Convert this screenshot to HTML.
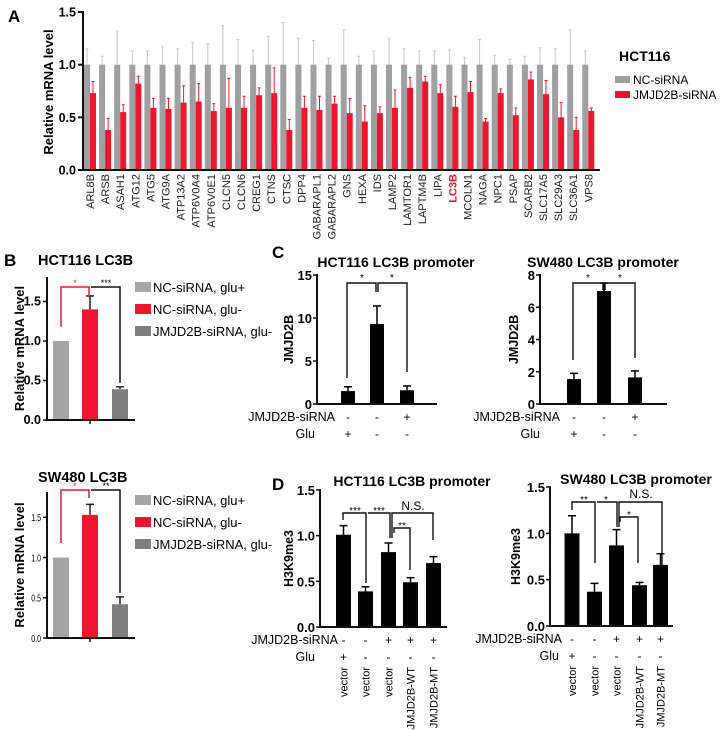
<!DOCTYPE html>
<html><head><meta charset="utf-8">
<style>
html,body{margin:0;padding:0;background:#fff;}
svg{display:block;font-family:"Liberation Sans",Arial,sans-serif;}
</style></head>
<body>
<svg id="fig" width="722" height="730" viewBox="0 0 722 730" xmlns="http://www.w3.org/2000/svg"></svg>
<script>
// ---------- DATA ----------
const aGenes=["ARL8B","ARSB","ASAH1","ATG12","ATG5","ATG9A","ATP13A2","ATP6V0A4","ATP6V0E1","CLCN5","CLCN6","CREG1","CTNS","CTSC","DPP4","GABARAPL1","GABARAPL2","GNS","HEXA","IDS","LAMP2","LAMTOR1","LAPTM4B","LIPA","LC3B","MCOLN1","NAGA","NPC1","PSAP","SCARB2","SLC17A5","SLC29A3","SLC36A1","VPS8"];
const aNC=[1,1,1,1,1,1,1,1,1,1,1,1,1,1,1,1,1,1,1,1,1,1,1,1,1,1,1,1,1,1,1,1,1,1];
const aNCTop=[1.15,1.08,1.32,1.13,1.13,1.17,1.15,1.21,1.20,1.37,1.24,1.14,1.27,1.40,1.25,1.23,1.06,1.33,1.08,1.13,1.25,1.15,1.13,1.13,1.14,1.07,1.24,1.09,1.05,1.08,1.16,1.15,1.33,1.13];
const aKD=[0.73,0.38,0.55,0.82,0.59,0.58,0.64,0.65,0.56,0.59,0.59,0.71,0.73,0.38,0.59,0.57,0.63,0.54,0.46,0.54,0.59,0.78,0.84,0.73,0.60,0.74,0.46,0.73,0.52,0.86,0.72,0.50,0.38,0.56];
const aKDTop=[0.84,0.49,0.62,0.89,0.68,0.68,0.80,0.82,0.63,0.87,0.70,0.78,0.97,0.48,0.70,0.70,0.70,0.68,0.61,0.60,0.76,0.88,0.89,0.81,0.70,0.84,0.49,0.77,0.59,0.93,0.85,0.64,0.50,0.59];
const aTicks=[0,0.5,1.0,1.5];
const aTickLabels=["0.0","0.5","1.0","1.5"];

const bHctVals=[1.0,1.40,0.39];
const bHctErr=[0,0.17,0.03];
const bSwVals=[1.0,1.53,0.42];
const bSwErr=[0,0.13,0.09];
const bLegend=["NC-siRNA, glu+","NC-siRNA, glu-","JMJD2B-siRNA, glu-"];
const bTicks=[0,0.5,1.0,1.5];

const cHctVals=[1.5,9.3,1.6];
const cHctErr=[0.5,2.1,0.5];
const cHctTicks=[0,5,10,15];
const cSwVals=[1.55,7.0,1.65];
const cSwErr=[0.35,0.5,0.4];
const cSwTicks=[0,2,4,6,8];
const cSiRNA=["-","-","+"];
const cGlu=["+","-","-"];

const dHctVals=[1.01,0.39,0.82,0.49,0.70];
const dHctErr=[0.10,0.05,0.10,0.05,0.07];
const dSwVals=[1.0,0.37,0.87,0.44,0.66];
const dSwErr=[0.19,0.09,0.17,0.03,0.12];
const dTicks=[0,0.5,1.0,1.5];
const dSiRNA=["-","-","+","+","+"];
const dGlu=["+","-","-","-","-"];
const dVectors=["vector","vector","vector","JMJD2B-WT","JMJD2B-MT"];

// ---------- HELPERS ----------
const NS="http://www.w3.org/2000/svg";
const svg=document.getElementById("fig");
const RED="#ee1530";
function mk(tag,attrs,parent){const e=document.createElementNS(NS,tag);for(const k in attrs)e.setAttribute(k,attrs[k]);(parent||svg).appendChild(e);return e;}
function txt(s,attrs,parent){const t=mk("text",attrs,parent);t.textContent=s;return t;}
function line(x1,y1,x2,y2,stroke,w){return mk("line",{x1:x1,y1:y1,x2:x2,y2:y2,stroke:stroke,"stroke-width":w||1});}
function poly(pts,stroke,w){return mk("polyline",{points:pts.map(p=>p.join(",")).join(" "),fill:"none",stroke:stroke,"stroke-width":w||1.3});}

// ---------- PANEL A ----------
(function(){
  const Y0=170, YT=12;
  const y=v=>Y0-v*(Y0-YT)/1.5;
  const gx=i=>84+i*15.1;
  const L=txt("A",{x:8,y:22,"font-size":17,"font-weight":"bold"});
  
  
  aGenes.forEach((gname,i)=>{
    const x=gx(i);
    const e1=line(x+3,y(aNCTop[i]),x+3,y(aNC[i]),"#c8c8c8",1);
    
    
    line(x+1.5,y(aNCTop[i]),x+4.5,y(aNCTop[i]),"#c8c8c8",1);
    const b1=mk("rect",{x:x,y:y(aNC[i]),width:6,height:y(0)-y(aNC[i]),fill:"#a0a0a2"});
    
    
    const e2=line(x+9,y(aKDTop[i]),x+9,y(aKD[i]),RED,1);
    
    
    line(x+7.5,y(aKDTop[i]),x+10.5,y(aKDTop[i]),RED,1);
    const b2=mk("rect",{x:x+6,y:y(aKD[i]),width:6,height:y(0)-y(aKD[i]),fill:RED});
    
    
    const cx=x+6;
    const ly=Y0+4;
    const t=txt(gname,{x:cx+4,y:ly,"font-size":11,"text-anchor":"end",transform:"rotate(-90 "+(cx+4)+" "+ly+")",fill:gname==="LC3B"?RED:"#222","font-weight":gname==="LC3B"?"bold":"normal"});
    
    
  });
  line(83,YT-1,83,Y0+1,"#111",2);
  line(82,Y0,600,Y0,"#111",2);
  aTicks.forEach((v,i)=>{
    line(78,y(v),83,y(v),"#111",2);
    const t=txt(aTickLabels[i],{x:76,y:y(v)+4.5,"font-size":12.5,"font-weight":"bold","text-anchor":"end"});
    
    
  });
  const yt=txt("Relative mRNA level",{x:53,y:92,"font-size":13,"font-weight":"bold","text-anchor":"middle",transform:"rotate(-90 53 92)"});
  
  
  const lt=txt("HCT116",{x:619,y:61,"font-size":14,"font-weight":"bold"});
  
  
  const s1=mk("rect",{x:615,y:76,width:15,height:7,fill:"#a0a0a2"});
  
  
  const l1=txt("NC-siRNA",{x:633,y:84,"font-size":12});
  
  
  const s2=mk("rect",{x:615,y:91,width:15,height:7,fill:RED});
  
  
  const l2=txt("JMJD2B-siRNA",{x:633,y:99,"font-size":12});
  
  
})();

// ---------- PANEL B ----------
function panelB(vals,errs,y0,yTop,scale,title,titleY,small,brk){
  const y=v=>y0-v*scale;
  const xs=[53,82,112];
  const cols=["#a6a6a6",RED,"#7f7f7f"];
  vals.forEach((v,i)=>{
    if(errs[i]>0){
      line(xs[i]+8,y(v+errs[i]),xs[i]+8,y(v),"#222",1.5);
      line(xs[i]+4,y(v+errs[i]),xs[i]+12,y(v+errs[i]),"#222",1.5);
    }
    const r=mk("rect",{x:xs[i],y:y(v),width:16,height:y0-y(v),fill:cols[i]});
    
    
  });
  line(47,yTop,47,y0+1,"#111",2);
  line(46,y0,135,y0,"#111",2);
  line(90,y0,90,y0+4,"#111",1.5);
  bTicks.forEach(v=>{
    line(43,y(v),47,y(v),"#111",1.5);
    const t=txt(v.toFixed(1),{x:41,y:y(v)+4,"font-size":small?10:12.5,"font-weight":small?"normal":"bold","text-anchor":"end",transform:small?"translate("+(41*0.3)+",0) scale(0.7,1)":""});
    
    
  });
  const yc=(yTop+y0)/2;
  const yt=txt("Relative mRNA level",{x:24,y:yc,"font-size":13,"font-weight":"bold","text-anchor":"middle",transform:"rotate(-90 24 "+yc+")"});
  
  
  const tt=txt(title,{x:38,y:titleY,"font-size":14.5,"font-weight":"bold"});
  
  
  bLegend.forEach((s,i)=>{
    const ly=brk.legY+i*22;
    const sw=mk("rect",{x:135,y:ly-5,width:16,height:10,fill:cols[i]});
    
    
    const lt=txt(s,{x:153,y:ly+5,"font-size":13});
    
    
  });
  const top=brk.top;
  const p1=poly([[61,y(1.18)],[61,top],[89,top],[89,top+8]],RED,1.5);
  
  
  const p2=poly([[91,top],[120,top],[120,y(vals[2]+errs[2]+0.05)]],"#111",1.5);
  
  
  const s1=txt("*",{x:75,y:top-1,"font-size":9,fill:RED,"text-anchor":"middle"});
  
  
  const s2=txt(brk.star,{x:106,y:top-1,"font-size":9,"text-anchor":"middle"});
  
  
}
(function(){
  const L=txt("B",{x:4,y:266,"font-size":17,"font-weight":"bold"});
  
  
  panelB(bHctVals,bHctErr,420,277,79,"HCT116 LC3B",265,false,{top:287,star:"***",legY:287});
  panelB(bSwVals,bSwErr,638,492,80.5,"SW480 LC3B",482,true,{top:490,star:"**",legY:500});
})();

// ---------- BAR PANEL (C & D) ----------
function blackPanel(o){
  const y=v=>o.y0-(v-0)*(o.y0-o.yTop)/o.max;
  o.vals.forEach((v,i)=>{
    const cx=o.cx[i];
    line(cx,y(v+o.err[i]),cx,y(v),"#000",1.5);
    line(cx-4,y(v+o.err[i]),cx+4,y(v+o.err[i]),"#000",1.5);
    const r=mk("rect",{x:cx-o.w/2,y:y(v),width:o.w,height:o.y0-y(v),fill:"#000"});
    
    
    const s1=txt(o.si[i],{x:cx,y:o.y0+17,"font-size":12,"text-anchor":"middle"});
    
    
    const s2=txt(o.glu[i],{x:cx,y:o.y0+34,"font-size":12,"text-anchor":"middle"});
    
    
    if(o.vec){
      const vt=txt(o.vec[i],{x:cx+4,y:o.y0+40,"font-size":11,"text-anchor":"end",transform:"rotate(-90 "+(cx+4)+" "+(o.y0+40)+")"});
      
      
    }
  });
  line(o.ax,o.yTop-1,o.ax,o.y0+1,"#111",2);
  line(o.ax-1,o.y0,o.axEnd,o.y0,"#111",2);
  o.ticks.forEach(v=>{
    line(o.ax-4,y(v),o.ax,y(v),"#111",1.5);
    const t=txt(o.fmt(v),{x:o.ax-5,y:y(v)+5,"font-size":13,"font-weight":"bold","text-anchor":"end"});
    
    
  });
  const yc=(o.yTop+o.y0)/2;
  const yt=txt(o.ytitle,{x:o.ytx,y:yc,"font-size":12.5,"font-weight":"bold","text-anchor":"middle",transform:"rotate(-90 "+o.ytx+" "+yc+")"});
  
  
  const tt=txt(o.title,{x:o.tx,y:o.ty,"font-size":14,"font-weight":"bold","text-anchor":"middle"});
  
  
  const r1=txt("JMJD2B-siRNA",{x:o.rowEnd,y:o.y0+17,"font-size":12.5,"text-anchor":"end"});
  
  
  const r2=txt("Glu",{x:o.gluEnd,y:o.y0+34,"font-size":12.5,"text-anchor":"end"});
  
  
  o.brackets.forEach(b=>{
    const p=poly(b.pts,"#111",1.4);
    
    
    const s=txt(b.t,{x:b.tx,y:b.ty,"font-size":b.t==="N.S."?12:10,"text-anchor":"middle"});
    
    
  });
}
(function(){
  const C=txt("C",{x:272,y:258,"font-size":17,"font-weight":"bold"});
  
  
  const D=txt("D",{x:272,y:490,"font-size":17,"font-weight":"bold"});
  
  
  blackPanel({id:"c-hct",vals:cHctVals,err:cHctErr,ticks:cHctTicks,max:15,y0:404,yTop:275,ax:317,axEnd:437,cx:[348,377,407],w:14,
    si:cSiRNA,glu:cGlu,fmt:v=>String(v),ytitle:"JMJD2B",ytx:293,title:"HCT116 LC3B promoter",tx:396,ty:267,rowEnd:335,gluEnd:315,
    brackets:[{pts:[[347,378],[347,283],[376,283],[376,292]],t:"*",tx:362,ty:281},{pts:[[378,292],[378,283],[407,283],[407,372]],t:"*",tx:392,ty:281}]});
  blackPanel({id:"c-sw",vals:cSwVals,err:cSwErr,ticks:cSwTicks,max:8,y0:404,yTop:275,ax:540,axEnd:667,cx:[574,604,635],w:14,
    si:cSiRNA,glu:cGlu,fmt:v=>String(v),ytitle:"JMJD2B",ytx:518,title:"SW480 LC3B promoter",tx:603,ty:267,rowEnd:560,gluEnd:540,
    brackets:[{pts:[[573,360],[573,283],[603,283],[603,290]],t:"*",tx:588,ty:281},{pts:[[605,290],[605,283],[635,283],[635,358]],t:"*",tx:620,ty:281}]});
  blackPanel({id:"d-hct",vals:dHctVals,err:dHctErr,ticks:dTicks,max:1.5,y0:627,yTop:490,ax:320,axEnd:447,cx:[343.5,365.5,388.5,410.5,433.5],w:15,
    si:dSiRNA,glu:dGlu,vec:dVectors,fmt:v=>v.toFixed(1),ytitle:"H3K9me3",ytx:293,title:"HCT116 LC3B promoter",tx:412,ty:486,rowEnd:338,gluEnd:315,
    brackets:[{pts:[[343,520],[343,513],[366,513],[366,583]],t:"***",tx:355,ty:514},
              {pts:[[368,513],[390,513],[390,538]],t:"***",tx:379,ty:514},
              {pts:[[392,538],[392,513],[433,513],[433,540]],t:"N.S.",tx:413,ty:510},
              {pts:[[394,533],[394,528],[410,528],[410,570]],t:"**",tx:402,ty:529}]});
  blackPanel({id:"d-sw",vals:dSwVals,err:dSwErr,ticks:dTicks,max:1.5,y0:626,yTop:487,ax:550,axEnd:673,cx:[572,594.5,616.5,639.5,660.5],w:15,
    si:dSiRNA,glu:dGlu,vec:dVectors,fmt:v=>v.toFixed(1),ytitle:"H3K9me3",ytx:520,title:"SW480 LC3B promoter",tx:636,ty:484,rowEnd:562,gluEnd:559,
    brackets:[{pts:[[572,510],[572,502],[595,502],[595,563]],t:"**",tx:584,ty:503},
              {pts:[[597,502],[617,502],[617,527]],t:"*",tx:606,ty:503},
              {pts:[[619,527],[619,502],[662,502],[662,567]],t:"N.S.",tx:641,ty:498},
              {pts:[[620,522],[620,517],[638,517],[638,563]],t:"*",tx:629,ty:518}]});
})();
</script>
</body></html>
